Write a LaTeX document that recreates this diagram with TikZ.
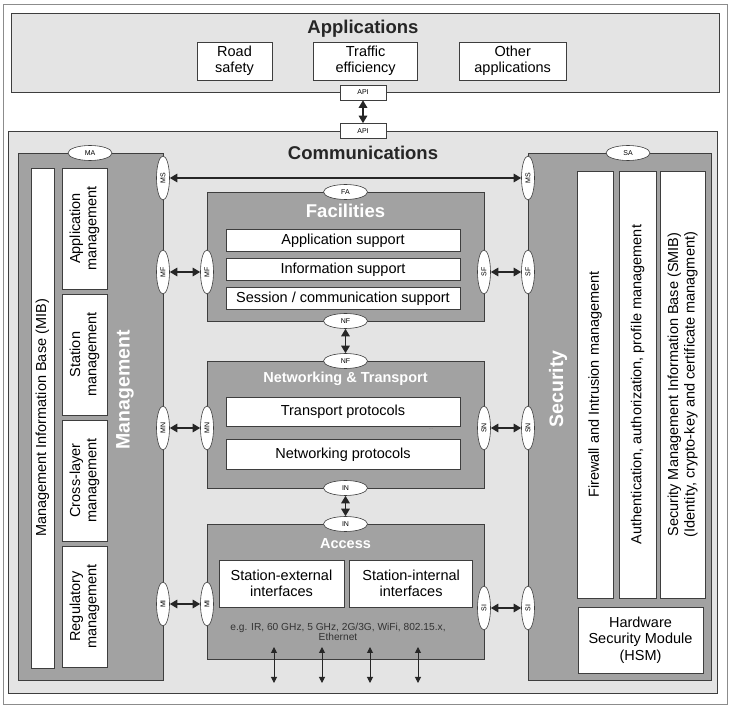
\documentclass[tikz,border=0pt]{standalone}
\usepackage{fontspec}
\setmainfont{Liberation Sans}
\usetikzlibrary{arrows.meta, shapes.geometric, positioning}
\definecolor{panelgray}{RGB}{228,228,228}
\definecolor{layergray}{RGB}{162,162,162}
\definecolor{edgegray}{RGB}{62,62,62}

\begin{document}
\begin{tikzpicture}[
      x=1pt, y=-1pt,
      node distance = 41pt,
      panel/.style   = {draw=edgegray, fill=panelgray, line width=0.8pt,
                        anchor=north west, inner sep=0pt},
      layer/.style   = {draw=edgegray, fill=layergray, line width=0.8pt,
                        anchor=north west, inner sep=0pt},
      block/.style   = {draw=edgegray, fill=white, line width=0.6pt, align=center,
                        inner sep=0pt, font=\fontsize{14.5}{16.5}\selectfont},
      heading/.style = {font=\bfseries\fontsize{18.5}{20}\selectfont, text=black!85},
      wheading/.style= {font=\bfseries\fontsize{18.5}{20}\selectfont, text=white},
      sap/.style     = {ellipse, draw=edgegray, fill=white, line width=0.6pt,
                        inner sep=0pt, minimum width=44pt, minimum height=15pt,
                        font=\fontsize{7}{8}\selectfont},
      vsap/.style    = {sap, minimum height=13pt, rotate=90},
      api/.style     = {draw=edgegray, fill=white, line width=0.6pt, inner sep=0pt,
                        minimum width=46pt, minimum height=15pt,
                        font=\fontsize{7}{8}\selectfont},
      arr/.style     = {{Triangle[length=7.5pt,width=8.5pt]}-{Triangle[length=7.5pt,width=8.5pt]},
                        line width=1.5pt, black!85},
      thinarr/.style = {{Triangle[length=6pt,width=6pt]}-{Triangle[length=6pt,width=6pt]},
                        line width=1pt, black!85},
    ]

    \useasboundingbox (0,0) rectangle (732,708);
    \draw[black!45, line width=0.8pt] (3,4) rectangle (727,704);

    % Applications
    \node[panel, minimum width=708pt, minimum height=79pt] (apps) at (11,13) {};
    \node[heading] (appstitle) at (363,29) {Applications};
    \node[block, minimum width=75pt, minimum height=38pt] (road) at (234.5,61) {Road\\safety};
    \node[block, minimum width=104pt, minimum height=38pt, right=of road] (traffic) {Traffic\\efficiency};
    \node[block, minimum width=107pt, minimum height=38pt, right=of traffic] (other) {Other\\applications};

    % Communications
    \node[panel, minimum width=709pt, minimum height=562pt] (comms) at (8,131) {};
    \node[heading] (commstitle) at (363,153) {Communications};

    \node[api] (apiA) at (363,92.5) {API};
    \node[api] (apiC) at (363,131) {API};
    \draw[arr] (apiA) -- (apiC);

    % Management column
    \node[layer, minimum width=145pt, minimum height=527pt] (mgmt) at (18,153) {};
    \node[block, rotate=90, minimum width=500pt, minimum height=23pt] (mib) at (42.5,418)
      {Management Information Base (MIB)};
    \node[block, rotate=90, minimum width=121pt, minimum height=45pt] (appmg) at (84.5,228.5)
      {Application\\management};
    \node[block, rotate=90, minimum width=121pt, minimum height=45pt] (stamg) at (84.5,354.5)
      {Station\\management};
    \node[block, rotate=90, minimum width=121pt, minimum height=45pt] (crossmg) at (84.5,480.5)
      {Cross-layer\\management};
    \node[block, rotate=90, minimum width=121pt, minimum height=45pt] (regmg) at (84.5,606.5)
      {Regulatory\\management};
    \node[wheading, rotate=90, font=\bfseries\fontsize{19.5}{20}\selectfont] (mgmttitle) at (125,390) {Management};

    % Security column
    \node[layer, minimum width=183pt, minimum height=527pt] (sec) at (528,153) {};
    \node[block, rotate=90, minimum width=427pt, minimum height=36pt] (fw) at (595,384.5)
      {Firewall and Intrusion management};
    \node[block, rotate=90, minimum width=427pt, minimum height=37pt] (auth) at (637.5,384.5)
      {Authentication, authorization, profile management};
    \node[block, rotate=90, minimum width=427pt, minimum height=45pt] (smib) at (682.5,384.5)
      {Security Management Information Base (SMIB)\\(Identity, crypto-key and certificate managment)};
    \node[block, minimum width=125pt, minimum height=66pt] (hsm) at (640.5,640)
      {Hardware\\Security Module\\(HSM)};
    \node[wheading, rotate=90, font=\bfseries\fontsize{19.5}{20}\selectfont] (sectitle) at (558,389) {Security};

    % Facilities
    \node[layer, minimum width=277pt, minimum height=129pt] (fac) at (207,192) {};
    \node[wheading] (factitle) at (345.5,211) {Facilities};
    \node[block, minimum width=234pt, minimum height=22pt] (appsup) at (343,240.5) {Application support};
    \node[block, minimum width=234pt, minimum height=22pt, below=6.5pt of appsup] (infosup) {Information support};
    \node[block, minimum width=234pt, minimum height=22pt, below=6.5pt of infosup] (sessup) {Session / communication support};

    % Networking & Transport
    \node[layer, minimum width=277pt, minimum height=127pt] (net) at (207,361) {};
    \node[wheading, font=\bfseries\fontsize{14.5}{15}\selectfont] (nettitle) at (345.5,379) {Networking \& Transport};
    \node[block, minimum width=234pt, minimum height=29pt] (transp) at (343,412) {Transport protocols};
    \node[block, minimum width=234pt, minimum height=30pt, below=12.5pt of transp] (netp) {Networking protocols};
    \node[font=\fontsize{5}{5}\selectfont, text=black!55] (dots) at (431,429.5) {...};

    % Access
    \node[layer, minimum width=277pt, minimum height=135pt] (acc) at (207,524) {};
    \node[wheading, font=\bfseries\fontsize{14.5}{15}\selectfont] (acctitle) at (345.5,544) {Access};
    \node[block, minimum width=125pt, minimum height=47pt] (statext) at (281.5,583.5) {Station-external\\interfaces};
    \node[block, minimum width=123pt, minimum height=47pt, right=5pt of statext] (statint) {Station-internal\\interfaces};
    \node[align=center, text=black!80, font=\fontsize{10.2}{10.5}\selectfont] (media) at (338,632)
      {e.g. IR, 60 GHz, 5 GHz, 2G/3G, WiFi, 802.15.x,\\Ethernet};

    % Service access points
    \node[sap] (ma) at (90,153) {MA};
    \node[sap] (sa) at (628,153) {SA};
    \node[sap] (fa) at (345.5,192) {FA};
    \node[sap] (nfF) at (345.5,321) {NF};
    \node[sap] (nfN) at (345.5,361) {NF};
    \node[sap] (inN) at (345.5,488) {IN};
    \node[sap] (inA) at (345.5,524) {IN};

    \node[vsap] (msM) at (163,178) {MS};
    \node[vsap] (mfM) at (163,272) {MF};
    \node[vsap] (mnM) at (163,428) {MN};
    \node[vsap] (miM) at (163,604) {MI};
    \node[vsap] (mfF) at (207,272) {MF};
    \node[vsap] (mnN) at (207,428) {MN};
    \node[vsap] (miA) at (207,604) {MI};
    \node[vsap] (sfF) at (484,272) {SF};
    \node[vsap] (snN) at (484,428) {SN};
    \node[vsap] (siA) at (484,608) {SI};
    \node[vsap] (msS) at (528,178) {MS};
    \node[vsap] (sfS) at (528,272) {SF};
    \node[vsap] (snS) at (528,428) {SN};
    \node[vsap] (siS) at (528,608) {SI};

    \draw[arr] (msM) -- (msS);
    \draw[arr] (mfM) -- (mfF);
    \draw[arr] (mnM) -- (mnN);
    \draw[arr] (miM) -- (miA);
    \draw[arr] (sfF) -- (sfS);
    \draw[arr] (snN) -- (snS);
    \draw[arr] (siA) -- (siS);
    \draw[arr] (nfF) -- (nfN);
    \draw[arr] (inN) -- (inA);

    % Physical media links
    \foreach \x [count=\i] in {274,322,370,418} {
      \coordinate (up\i) at (\x,647);
      \coordinate (dn\i) at (\x,683);
      \draw[thinarr] (up\i) -- (dn\i);
    }

  \end{tikzpicture}
\end{document}
